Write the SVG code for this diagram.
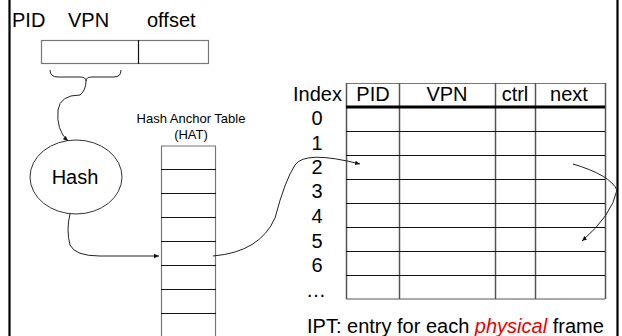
<svg xmlns="http://www.w3.org/2000/svg" width="622" height="336" viewBox="0 0 622 336">
<style>
text{font-family:"Liberation Sans",Arial,sans-serif;fill:#000}
.big{font-size:20px}
.hdr{font-size:20px}
.sm{font-size:13px}
.box{fill:none;stroke:#777;stroke-width:1.2}
.row{stroke:#111;stroke-width:1.2}
.col{stroke:#555;stroke-width:1.5}
.con{fill:none;stroke:#222;stroke-width:1}
</style>
<defs>
<marker id="ah" markerWidth="6" markerHeight="6" refX="5" refY="3" orient="auto" markerUnits="userSpaceOnUse">
<path d="M0,0.8 L5,3 L0,5.2 z" fill="#111"/>
</marker>
</defs>
<rect width="622" height="336" fill="#fff"/>
<line x1="9.5" y1="0" x2="9.5" y2="336" stroke="#000" stroke-width="2.2"/>
<line x1="617.5" y1="0" x2="617.5" y2="336" stroke="#000" stroke-width="2.2"/>

<g id="address">
<text class="big" x="12" y="27">PID</text>
<text class="big" x="68" y="27">VPN</text>
<text class="big" x="147" y="27">offset</text>
<rect class="box" x="41.5" y="40.5" width="167" height="23"/>
<line x1="138.5" y1="40" x2="138.5" y2="64" stroke="#111" stroke-width="1.2"/>
<path class="con" d="M50,70 Q50,77 58,77 L80,77 Q86,77 86,81 Q86,77 92,77 L114,77 Q121,77 121,70"/>
</g>

<g id="hash">
<ellipse cx="76" cy="177" rx="46" ry="37" fill="none" stroke="#333" stroke-width="1"/>
<text class="big" x="75" y="184" text-anchor="middle">Hash</text>
</g>

<g id="hat">
<text class="sm" x="191" y="123" text-anchor="middle">Hash Anchor Table</text>
<text class="sm" x="191" y="139" text-anchor="middle">(HAT)</text>
<line class="box" x1="161.5" y1="146" x2="161.5" y2="336"/>
<line class="box" x1="215.5" y1="146" x2="215.5" y2="336"/>
<line class="box" x1="161" y1="146" x2="216" y2="146"/>
<g class="row">
<line x1="161" y1="169.5" x2="216" y2="169.5"/>
<line x1="161" y1="193.5" x2="216" y2="193.5"/>
<line x1="161" y1="217.5" x2="216" y2="217.5"/>
<line x1="161" y1="241.5" x2="216" y2="241.5"/>
<line x1="161" y1="265.5" x2="216" y2="265.5"/>
<line x1="161" y1="289.5" x2="216" y2="289.5"/>
<line x1="161" y1="313.5" x2="216" y2="313.5"/>
</g>
</g>

<g id="ipt">
<text class="hdr" x="342" y="101" text-anchor="end">Index</text>
<text class="hdr" x="373" y="101" text-anchor="middle">PID</text>
<text class="hdr" x="447" y="101" text-anchor="middle">VPN</text>
<text class="hdr" x="515" y="101" text-anchor="middle">ctrl</text>
<text class="hdr" x="569" y="101" text-anchor="middle">next</text>
<line class="box" x1="346" y1="83.5" x2="605" y2="83.5"/>
<g class="col">
<line x1="346.5" y1="83" x2="346.5" y2="299"/>
<line x1="399.5" y1="83" x2="399.5" y2="299"/>
<line x1="495.5" y1="83" x2="495.5" y2="299"/>
<line x1="535.5" y1="83" x2="535.5" y2="299"/>
<line x1="605.5" y1="83" x2="605.5" y2="299"/>
</g>
<line x1="346" y1="107" x2="605" y2="107" stroke="#000" stroke-width="3"/>
<g class="row">
<line x1="346" y1="131.5" x2="605" y2="131.5"/>
<line x1="346" y1="155.5" x2="605" y2="155.5"/>
<line x1="346" y1="179.5" x2="605" y2="179.5"/>
<line x1="346" y1="203.5" x2="605" y2="203.5"/>
<line x1="346" y1="227.5" x2="605" y2="227.5"/>
<line x1="346" y1="251.5" x2="605" y2="251.5"/>
<line x1="346" y1="275.5" x2="605" y2="275.5"/>
<line x1="346" y1="299" x2="605" y2="299" stroke="#555"/>
</g>
<g class="hdr" text-anchor="middle">
<text x="317" y="125">0</text>
<text x="317" y="150">1</text>
<text x="317" y="174">2</text>
<text x="317" y="198">3</text>
<text x="317" y="223">4</text>
<text x="317" y="248">5</text>
<text x="317" y="272">6</text>
<text x="316" y="297">…</text>
</g>
<text class="big" x="307" y="333">IPT: entry for each <tspan fill="#e00" font-style="italic">physical</tspan> frame</text>
</g>

<g id="connectors">
<path class="con" d="M86,81 Q86,90 80,95 Q60,95 58,110 Q56,130 68,141" marker-end="url(#ah)"/>
<path class="con" d="M70,214 Q66,230 70,245 Q75,256 100,256 L159,256" marker-end="url(#ah)"/>
<path class="con" d="M213,256 Q260,252 275,218 Q285,180 295,165 Q305,150 360,164" marker-end="url(#ah)"/>
<path class="con" d="M573,164 Q610,175 617,190 Q612,215 582,241" marker-end="url(#ah)"/>
</g>
</svg>
